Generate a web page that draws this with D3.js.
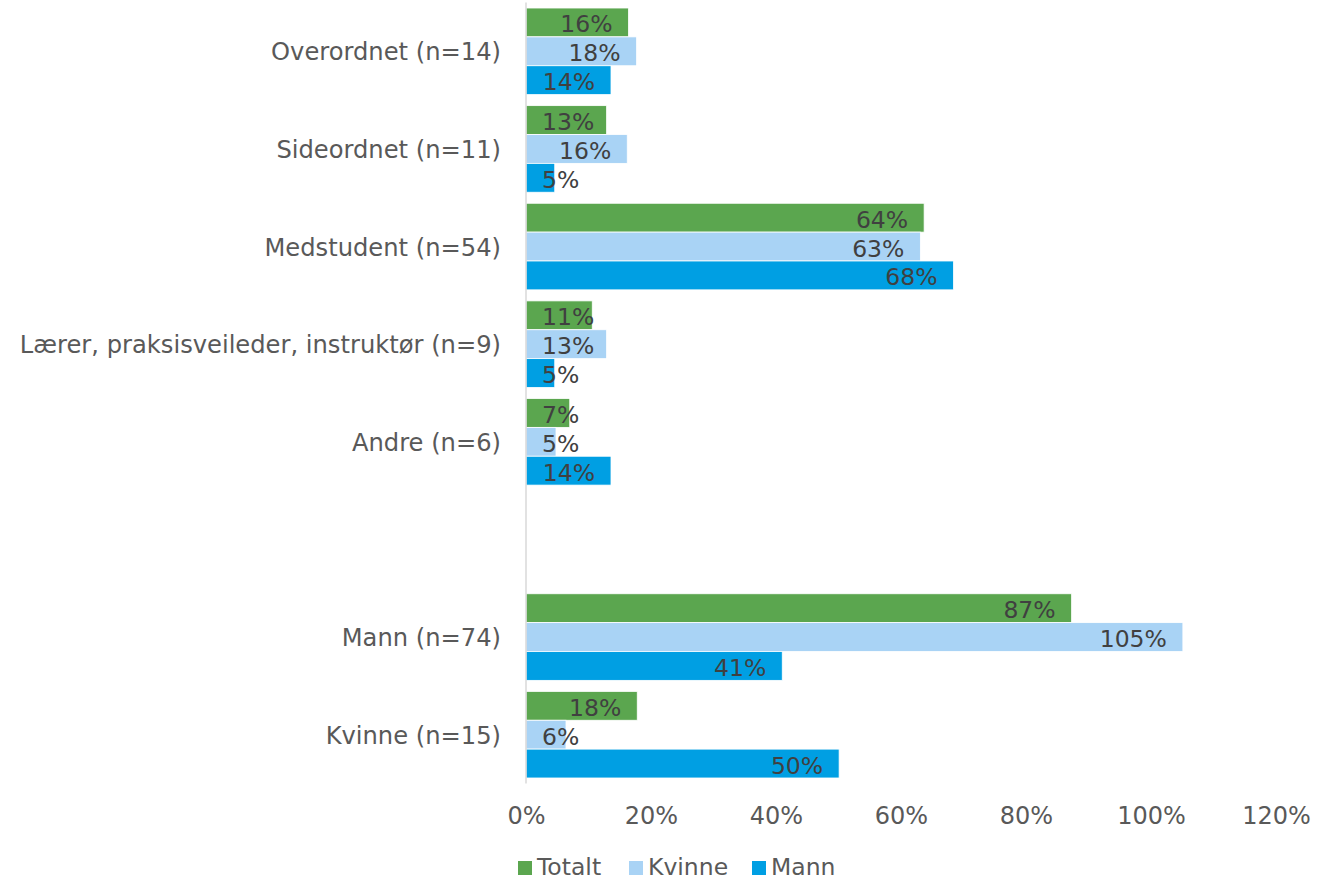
<!DOCTYPE html>
<html>
<head>
<meta charset="utf-8">
<script src="https://cdn.jsdelivr.net/npm/d3@7"></script>
<style>
  html, body { margin: 0; padding: 0; background: #fff; }
  svg { display: block; font-family: "DejaVu Sans", Verdana, sans-serif; }
</style>
</head>
<body>
<svg id="chart" width="1335" height="881"></svg>
<script>
const categories = [
  "Overordnet (n=14)",
  "Sideordnet (n=11)",
  "Medstudent (n=54)",
  "Lærer, praksisveileder, instruktør (n=9)",
  "Andre (n=6)",
  "",
  "Mann (n=74)",
  "Kvinne (n=15)"
];
const seriesNames = ["Totalt", "Kvinne", "Mann"];
const totalt = [16.4, 12.9, 63.7, 10.6, 7.0, null, 87.3, 17.8];
const kvinne = [17.7, 16.2, 63.1, 12.9, 4.8, null, 105.1, 6.4];
const mann   = [13.6, 4.6, 68.4, 4.6, 13.6, null, 41.0, 50.1];
const xTicks = [0, 20, 40, 60, 80, 100, 120];
const colors = ["#5BA64F", "#A9D3F5", "#009FE3"];

const seriesValues = [totalt, kvinne, mann];
const svg = d3.select("#chart");

const x = d3.scaleLinear().domain([0, 120]).range([526, 1276]);
const y = d3.scaleBand().domain(d3.range(categories.length))
  .range([2.5, 783.5]).paddingInner(0.113).paddingOuter(0.0565);
const ySub = d3.scaleBand().domain(d3.range(seriesNames.length))
  .range([0, y.bandwidth()]);

// bars
categories.forEach((c, i) => {
  const g = svg.append("g").attr("transform", `translate(0,${y(i)})`);
  seriesValues.forEach((vals, s) => {
    const v = vals[i];
    if (v == null) return;
    g.append("rect")
      .attr("x", x(0))
      .attr("y", ySub(s))
      .attr("width", x(v) - x(0))
      .attr("height", ySub.bandwidth())
      .attr("fill", colors[s])
      .attr("stroke", "#fff")
      .attr("stroke-width", 0.8);
  });
});

// value labels
categories.forEach((c, i) => {
  seriesValues.forEach((vals, s) => {
    const v = vals[i];
    if (v == null) return;
    const yc = y(i) + ySub(s) + ySub.bandwidth() / 2 + 10;
    const t = svg.append("text")
      .attr("x", x(v) - 16)
      .attr("y", yc)
      .attr("text-anchor", "end")
      .attr("font-size", 23.5)
      .attr("fill", "#404040")
      .text(Math.round(v) + "%");
    const w = t.node().getComputedTextLength();
    if (x(v) - 16 - w < x(0) + 16) {
      t.attr("text-anchor", "start").attr("x", x(0) + 16);
    }
  });
});

// axis line
svg.append("line")
  .attr("x1", x(0)).attr("x2", x(0))
  .attr("y1", y.range()[0]).attr("y2", y.range()[1])
  .attr("stroke", "#D9D9D9").attr("stroke-width", 1.5);

// category labels
const yAxis = d3.axisLeft(y).tickSize(0).tickPadding(0).tickFormat(i => categories[i]);
const ya = svg.append("g").attr("transform", `translate(${x(0) - 25},0)`).call(yAxis);
ya.select(".domain").remove();
ya.selectAll("text").attr("font-size", 24.2).attr("fill", "#595959")
  .attr("dy", null).attr("y", 9)
  .attr("font-family", "DejaVu Sans, Verdana, sans-serif");

// x axis ticks
const xAxis = d3.axisBottom(x).tickValues(xTicks).tickSize(0).tickPadding(0)
  .tickFormat(d => d + "%");
const xa = svg.append("g").attr("transform", `translate(0,824)`).call(xAxis);
xa.select(".domain").remove();
xa.selectAll("text").attr("font-size", 24).attr("fill", "#595959")
  .attr("dy", null).attr("y", 0)
  .attr("font-family", "DejaVu Sans, Verdana, sans-serif");

// legend
const legendX = [518, 629, 752];
seriesNames.forEach((n, s) => {
  svg.append("rect").attr("x", legendX[s]).attr("y", 861)
    .attr("width", 14).attr("height", 14).attr("fill", colors[s]);
  svg.append("text").attr("x", legendX[s] + 19).attr("y", 875)
    .attr("font-size", 23.5).attr("fill", "#595959").text(n);
});
</script>
</body>
</html>
